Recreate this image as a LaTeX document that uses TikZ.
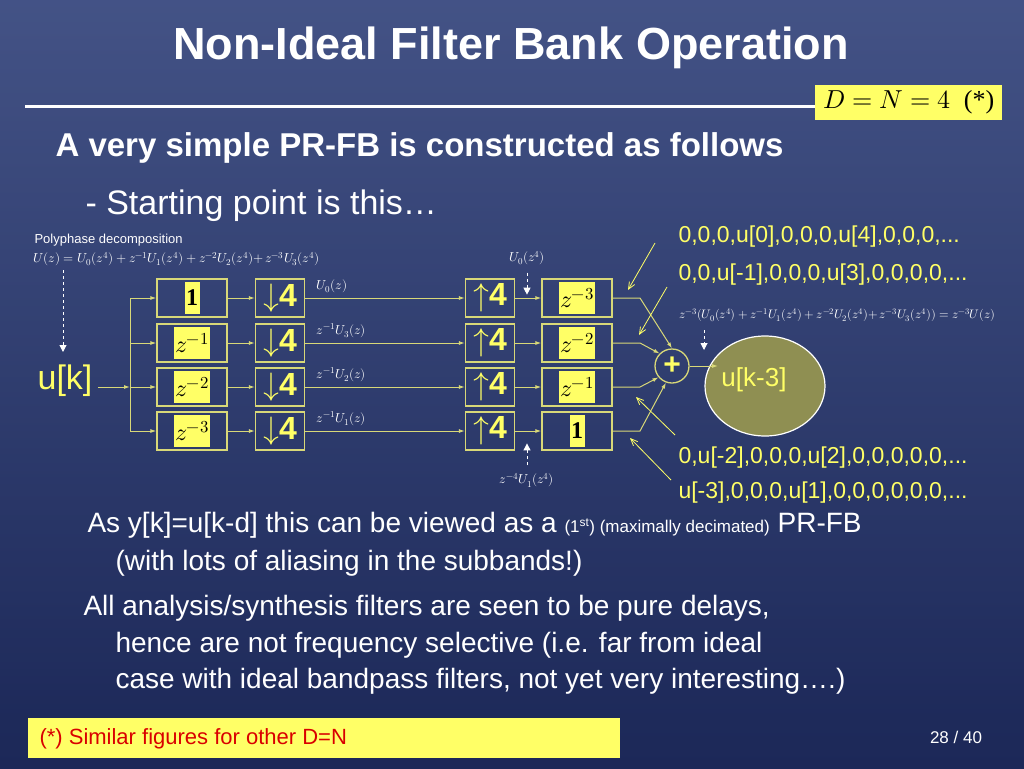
\documentclass[tikz,border=0pt]{standalone}
\usepackage{fontspec}
\usepackage{unicode-math}
\setmainfont{Liberation Sans}
\setmathfont{Latin Modern Math}
\newfontfamily\serifone{Liberation Serif}
\usetikzlibrary{arrows.meta,shapes.geometric}
\definecolor{ylw}{HTML}{FFFF66}
\definecolor{bline}{HTML}{D8D878}
\definecolor{bgA}{HTML}{4E5E92}
\definecolor{bgB}{HTML}{1C2858}
\definecolor{olv}{HTML}{8F8F52}
\begin{document}
\begin{tikzpicture}[x=1pt,y=-1pt,
  blk/.style={draw=bline,line width=1.3pt,minimum width=70pt,minimum height=38pt,inner sep=0pt},
  rblk/.style={draw=bline,line width=1.3pt,minimum width=49pt,minimum height=38pt,inner sep=0pt,text=ylw,font=\bfseries\fontsize{32}{32}\selectfont},
  yin/.style={fill=ylw,text=black,font=\fontsize{24}{24}\selectfont,inner sep=1.5pt,minimum height=32pt},
  sig/.style={draw=bline,line width=1pt,-{Latex[length=6pt,width=4pt]}},
  ann/.style={draw=ylw,line width=0.8pt,-{Straight Barb[length=7pt,width=6pt]}},
  dsh/.style={draw=white,dashed,line width=1pt,-{Triangle[length=7pt,width=7pt]}},
  seq/.style={text=ylw,anchor=west,font=\fontsize{23}{23}\selectfont},
  sm/.style={text=white,font=\fontsize{13}{13}\selectfont},
  wt/.style={text=white,anchor=west,font=\fontsize{28}{30}\selectfont}]
\shade[left color=bgA,right color=bgB,shading angle=0] (0,0) rectangle (1024,768);
\shade[top color=bgA!60!bgB,bottom color=bgB,opacity=0.5] (0,0) rectangle (1024,768);
\useasboundingbox (0,0) rectangle (1024,768);
\node[text=white,font=\bfseries\fontsize{45}{45}\selectfont] (title) at (511,48) {Non-Ideal Filter Bank Operation};
\coordinate (l1) at (25,106);
\node[fill=ylw,minimum width=187pt,minimum height=35pt,anchor=west,font=\serifone\fontsize{26}{26}\selectfont] (dn) at (815,102) {$D=N=4$\ \ (*)};
\draw[white,line width=3pt] (l1) -- (dn.west|-l1);
\node[text=white,anchor=west,font=\bfseries\fontsize{33}{33}\selectfont] (sub) at (52,148) {A very simple PR-FB is constructed as follows};
\node[text=white,anchor=west,font=\fontsize{34}{34}\selectfont] (start) at (82,206) {- Starting point is this\dots};
\node[sm,anchor=west] (poly) at (31,240) {Polyphase decomposition};
\node[sm,anchor=west] (pf) at (30,259) {$U(z)=U_0(z^4)+z^{-1}U_1(z^4)+z^{-2}U_2(z^4){+}\,z^{-3}U_3(z^4)$};
\coordinate (pa) at (63,270);
\coordinate (pb) at (63,352);
\draw[dsh] (pa) -- (pb);
\node[text=ylw,font=\fontsize{34}{34}\selectfont] (uk) at (65,381) {u[k]};
\coordinate (J) at (130,387);
\draw[bline,line width=1pt,-{Latex[length=6pt,width=4pt]}] ([xshift=2pt]uk.east|-J) -- (J);
\foreach \i/\y/\a/\d/\s in {1/298/{\serifone\bfseries 1}/$z^{-3}$/$U_0(z)$,2/343/$z^{-1}$/$z^{-2}$/$z^{-1}U_3(z)$,3/387/$z^{-2}$/$z^{-1}$/$z^{-1}U_2(z)$,4/431/$z^{-3}$/{\serifone\bfseries 1}/$z^{-1}U_1(z)$}{
  \node[blk] (a\i) at (192,\y) {};
  \node[yin] at (a\i) {\a};
  \node[rblk] (d\i) at (280,\y) {$\downarrow$4};
  \node[rblk] (u\i) at (490,\y) {$\uparrow$4};
  \node[blk] (s\i) at (577,\y) {};
  \node[yin] at (s\i) {\d};
  \node[sm,anchor=south west] at ([shift={(8,-2)}]d\i.east) {\s};
  \draw[sig] (J|-a\i) -- (a\i);
  \draw[sig] (a\i) -- (d\i);
  \draw[sig] (d\i) -- (u\i);
  \draw[sig] (u\i) -- (s\i);
}
\draw[bline,line width=1pt] (J|-a1) -- (J|-a4);
\node[circle,draw=bline,line width=1.3pt,minimum size=34pt,inner sep=0pt,text=ylw,font=\bfseries\fontsize{30}{30}\selectfont] (sum) at (672,366) {+};
\draw[sig] (s1.east) -- (640,298) -- (sum.north);
\draw[sig] (s2.east) -- (640,343) -- (sum.north west);
\draw[sig] (s3.east) -- (640,387) -- (sum.220);
\draw[sig] (s4.east) -- (640,431) -- (sum.250);
\node[ellipse,draw=white,line width=1.2pt,fill=olv,minimum width=120pt,minimum height=100pt] (ell) at (765,386) {};
\node[text=ylw,font=\fontsize{26}{26}\selectfont] (uk3) at (754,380) {u[k-3]};
\draw[sig] (sum.east) -- (718,366) coordinate (ea);
\node[sm] (u0z) at (527,258) {$U_0(z^4)$};
\draw[dsh] (u0z.south) ++(0,4) coordinate (u0a) -- ++(0,22) coordinate (u0b);
\node[sm] (z4u1) at (527,480) {$z^{-4}U_1(z^4)$};
\draw[dsh] (z4u1.north) ++(0,-4) -- ++(0,-22);
\node[seq] (q1) at (675,237) {0,0,0,u[0],0,0,0,u[4],0,0,0,...};
\node[seq] (q2) at (675,275) {0,0,u[-1],0,0,0,u[3],0,0,0,0,...};
\node[seq] (q3) at (675,458) {0,u[-2],0,0,0,u[2],0,0,0,0,0,...};
\node[seq] (q4) at (675,493) {u[-3],0,0,0,u[1],0,0,0,0,0,0,...};
\coordinate (t1) at (655,243); \coordinate (h1) at (628,290);
\coordinate (t2) at (667,287); \coordinate (h2) at (639,335);
\coordinate (t3) at (675,435); \coordinate (h3) at (636,397);
\coordinate (t4) at (671,480); \coordinate (h4) at (630,438);
\draw[ann] (t1) -- (h1); \draw[ann] (t2) -- (h2); \draw[ann] (t3) -- (h3); \draw[ann] (t4) -- (h4);
\node[sm,anchor=west,font=\fontsize{12.3}{12.3}\selectfont] (big) at (676,315) {$z^{-3}(U_0(z^4)+z^{-1}U_1(z^4)+z^{-2}U_2(z^4){+}\,z^{-3}U_3(z^4))={}z^{-3}U(z)$};
\draw[dsh] (704,330) -- (704,350);
\node[wt] (p1) at (84,525) {As y[k]=u[k-d] this can be viewed as a {\fontsize{17}{17}\selectfont(1\textsuperscript{st}) (maximally decimated)} PR-FB};
\node[wt] (p2) at (112,563) {(with lots of aliasing in the subbands!)};
\node[wt] (p3) at (80,608) {All analysis/synthesis filters are seen to be pure delays,};
\node[wt] (p4) at (112,645) {hence are not frequency selective (i.e. far from ideal};
\node[wt] (p5) at (112,681) {case with ideal bandpass filters, not yet very interesting….)};
\node[fill=ylw,minimum width=592pt,minimum height=40pt,anchor=west] (foot) at (28,738) {};
\node[text=red!85!black,anchor=west,font=\fontsize{22}{22}\selectfont] (ft) at (36,739) {(*) Similar figures for other D=N};
\node[text=white,font=\fontsize{17}{17}\selectfont] (pg) at (956,737) {28 / 40};
\end{tikzpicture}
\end{document}
